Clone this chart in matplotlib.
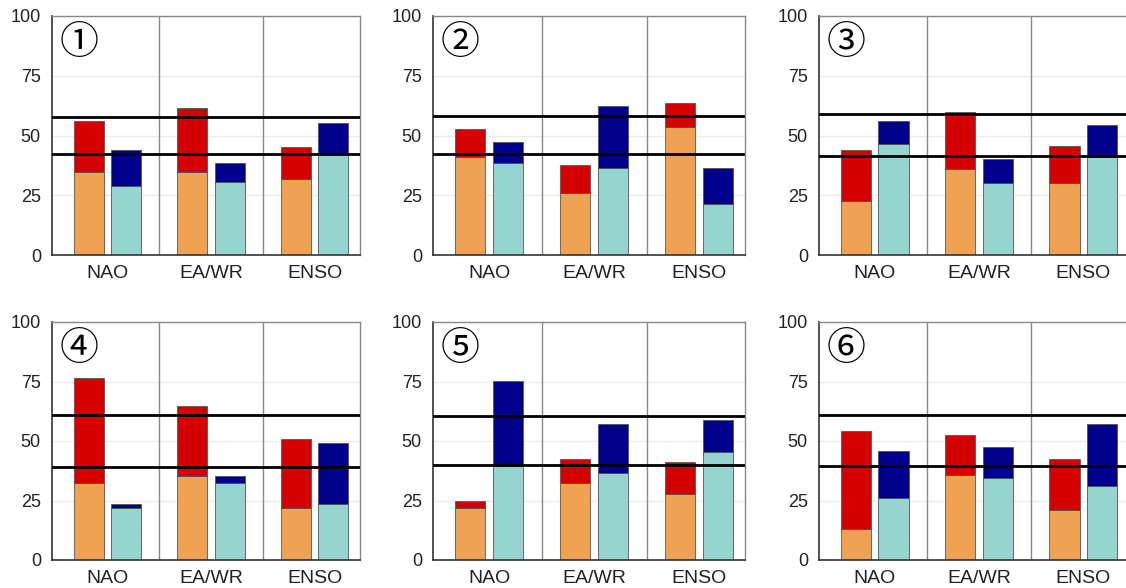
#!/usr/bin/env python3
"""
Six panels of paired stacked bars (NAO, EA/WR, ENSO) with two reference lines.
"""

import numpy as np
import matplotlib
matplotlib.use("Agg")
import matplotlib.pyplot as plt

plt.rcParams["font.family"] = ["Liberation Sans", "DejaVu Sans"]

categories = ["NAO", "EA/WR", "ENSO"]
panel_labels = ["①", "②", "③", "④", "⑤", "⑥"]

# left bar: orange base, red up to total
orange_base = [
    [34.6, 34.6, 31.7],
    [40.9, 25.9, 53.7],
    [22.6, 36.1, 30.3],
    [32.2, 35.4, 21.8],
    [22.0, 32.3, 27.8],
    [12.9, 35.9, 21.0],
]
red_total = [
    [56.2, 61.6, 45.0],
    [52.7, 37.7, 63.5],
    [43.8, 60.0, 45.6],
    [76.4, 64.5, 50.9],
    [24.8, 42.5, 41.1],
    [54.0, 52.4, 42.5],
]
# right bar: cyan base, dark blue up to total
cyan_base = [
    [28.7, 30.7, 42.1],
    [38.6, 36.5, 21.5],
    [46.3, 30.0, 41.1],
    [22.0, 32.3, 23.5],
    [39.6, 36.5, 45.3],
    [26.0, 34.3, 30.9],
]
blue_total = [
    [43.9, 38.5, 55.2],
    [47.3, 62.3, 36.5],
    [56.2, 40.0, 54.4],
    [23.6, 35.5, 49.1],
    [75.1, 57.3, 58.7],
    [45.9, 47.6, 57.3],
]
upper_line = [57.9, 58.0, 58.9, 61.0, 60.4, 60.8]
lower_line = [42.3, 42.1, 41.4, 39.2, 39.9, 39.4]

ORANGE = "#EFA352"
RED = "#D50000"
CYAN = "#96D4D0"
NAVY = "#00008C"

W, H = 1126, 588
fig = plt.figure(figsize=(W / 100, H / 100), dpi=100)

col_left = [52, 433, 819]
col_width = [308, 312, 310]
row_top = [16, 322]
row_height = [239, 238]

x = np.arange(len(categories))
bw = 0.29
off = 0.18

for k in range(6):
    r, c = divmod(k, 3)
    rect = [
        col_left[c] / W,
        1 - (row_top[r] + row_height[r]) / H,
        col_width[c] / W,
        row_height[r] / H,
    ]
    ax = fig.add_axes(rect)

    for g in (25, 50, 75):
        ax.axhline(g, color="#ebebeb", lw=1, zorder=0)

    ob = np.array(orange_base[k])
    rt = np.array(red_total[k])
    cb = np.array(cyan_base[k])
    bt = np.array(blue_total[k])

    ax.bar(x - off, ob, bw, color=ORANGE, edgecolor="#555555", lw=0.6, zorder=2)
    ax.bar(x - off, rt - ob, bw, bottom=ob, color=RED, edgecolor="#555555",
           lw=0.6, zorder=2)
    ax.bar(x + off, cb, bw, color=CYAN, edgecolor="#555555", lw=0.6, zorder=2)
    ax.bar(x + off, bt - cb, bw, bottom=cb, color=NAVY, edgecolor="#555555",
           lw=0.6, zorder=2)

    for sep in (0.5, 1.5):
        ax.axvline(sep, color="#888888", lw=1, zorder=1)

    ax.axhline(upper_line[k], color="black", lw=2, zorder=3)
    ax.axhline(lower_line[k], color="black", lw=2, zorder=3)

    ax.set_xlim(-0.534, 2.437)
    ax.set_ylim(0, 100)
    ax.set_yticks([0, 25, 50, 75, 100])
    ax.set_xticks(x)
    ax.set_xticklabels(categories, fontsize=14)
    ax.tick_params(axis="y", length=0, pad=8, labelsize=13, colors="#222222")
    ax.tick_params(axis="x", length=0, pad=7, colors="#222222")

    for side in ("top", "right"):
        ax.spines[side].set_color("#888888")
        ax.spines[side].set_linewidth(1)
    for side in ("left", "bottom"):
        ax.spines[side].set_color("#333333")
        ax.spines[side].set_linewidth(1.2)

    ax.text(0.088, 0.885, panel_labels[k], transform=ax.transAxes,
            ha="center", va="center", fontsize=28,
            family=["Noto Sans CJK JP", "DejaVu Sans"], zorder=4)

fig.savefig("out.png", dpi=100)
